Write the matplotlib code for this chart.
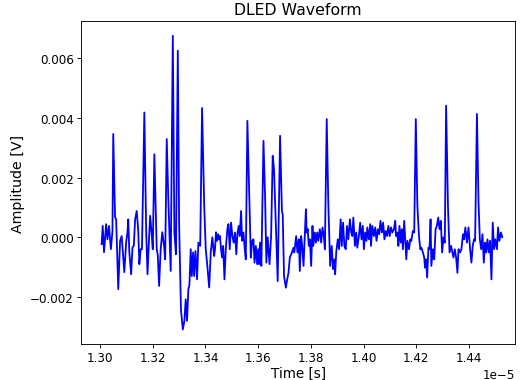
import numpy as np
from matplotlib import pyplot as plt

# sample times in ns
time_ns = [
    13006, 13010, 13015, 13023, 13028, 13034, 13041, 13047, 13050, 13057, 13061, 13069, 13076, 13082, 13092, 13099, 13104, 13107,
    13111, 13118, 13123, 13128, 13133, 13139, 13145, 13149, 13154, 13159, 13168, 13175, 13180, 13186, 13190, 13196, 13200, 13206,
    13215, 13219, 13224, 13230, 13236, 13243, 13247, 13253, 13259, 13268, 13276, 13282, 13288, 13295, 13300, 13307, 13314, 13320,
    13325, 13330, 13335, 13339, 13344, 13348, 13353, 13357, 13362, 13368, 13373, 13380, 13387, 13395, 13401, 13407, 13414, 13420,
    13426, 13433,
    13436, 13440, 13444, 13448, 13452, 13455, 13459, 13463, 13467, 13472, 13477, 13483, 13487, 13492, 13497, 13502, 13507, 13512,
    13517, 13521, 13526, 13530, 13535, 13539, 13544, 13549, 13553, 13559, 13567, 13572, 13577, 13582, 13586, 13591, 13596, 13600,
    13603, 13607, 13612, 13620, 13626, 13631, 13636, 13643, 13649, 13655, 13660,
    13668, 13674, 13683, 13690, 13693, 13698, 13705, 13710, 13715, 13720, 13728, 13734, 13737, 13744, 13749, 13754, 13758, 13763,
    13767, 13772, 13781, 13784, 13788, 13792, 13796, 13801, 13806, 13809, 13815, 13819, 13824, 13828, 13834, 13839, 13844, 13849,
    13853, 13860, 13866, 13873, 13879, 13884, 13889,
    13892, 13896, 13902, 13907, 13913, 13917, 13922, 13927, 13932, 13937, 13942, 13948, 13953, 13957, 13961, 13967, 13972, 13976,
    13982, 13987, 13992, 13997, 14001, 14006, 14011, 14014, 14020, 14025, 14028, 14033, 14039, 14044, 14049, 14054, 14059, 14064,
    14069, 14074, 14079, 14084, 14089, 14094, 14099, 14104, 14109, 14115, 14120,
    14123, 14128, 14132, 14136, 14141, 14145, 14149, 14154, 14159, 14162, 14166, 14172, 14177, 14181, 14187, 14192, 14198, 14204,
    14210, 14215, 14219, 14225, 14230, 14233, 14237, 14241, 14246, 14250, 14254, 14257, 14263, 14268, 14273, 14278, 14283, 14288,
    14293, 14298, 14303, 14308, 14313,
    14320, 14326, 14332, 14336, 14341, 14346, 14351, 14356, 14360, 14366, 14371, 14377, 14381, 14386, 14392, 14398, 14404, 14409,
    14414, 14419, 14423, 14430, 14436, 14441, 14446, 14451, 14456, 14461, 14465, 14470, 14475, 14480, 14485, 14490, 14495, 14500,
    14506, 14510, 14515, 14521, 14526,
]

# amplitude in mV
amp_mv = [
    -0.23, 0.38, -0.50, 0.44, -0.07, 0.38, -0.40, 0.20, 3.46, 0.67, 0.60, -1.74, -0.12, 0.04, -1.17, -0.17, 0.17, 0.60,
    -0.50, -1.24, -0.34, -0.29, 0.60, 0.88, 0.21, -0.90, -0.40, -0.40, 4.18, 0.17, -1.24, 0.00, 0.72, 0.10, -0.40, 2.78,
    -0.40, -0.60, -1.63, -0.40, 0.17, -0.29, -0.74, 3.29, 1.27, -1.13, 6.75, 0.17, -0.57, 6.25, 0.38, -2.42, -3.09, -2.80,
    -2.08, -2.80, -1.74, -1.60, -0.40, -1.30, -0.51, -1.30, -0.46, -1.41, -0.18, -0.29, 4.33, 1.10, -0.40, -0.96, -1.68, -0.51,
    0.00, -0.63,
    -0.40, 0.17, -0.12, 0.10, -0.07, 0.04, -0.40, -0.68, -0.29, -1.41, -0.40, 0.27, 0.44, -0.40, 0.49, 0.04, -0.18, 0.16,
    -0.57, 0.10, 0.38, 0.04, 0.88, -0.12, 0.16, -0.40, -0.74, 3.90, 1.05, -0.68, -0.12, -0.07, -0.85, -0.29, -0.90, -0.40,
    -0.90, -0.18, -0.96, 3.23, 1.39, -0.85, 0.00, -0.90, 0.04, 2.73, 2.28,
    0.16, -1.47, 3.40, 0.88, 0.77, -1.30, -1.69, -1.41, -1.19, -0.68, -0.51, -0.35, -0.51, 0.04, -0.51, -0.07, -1.13, 0.04,
    -0.29, -0.96, 0.94, 0.16, 0.27, -0.29, -0.07, -0.96, 0.38, -0.29, 0.16, -0.18, 0.16, -0.12, 0.27, -0.18, 0.33, 0.04,
    -0.40, 3.96, 1.16, -0.96, -0.29, -1.07, -0.74,
    -1.24, -0.51, -0.07, -0.40, 0.60, -0.29, 0.49, -0.29, -0.40, 0.38, -0.07, 0.60, 0.16, 0.04, 0.66, -0.29, 0.16, -0.35,
    0.04, 0.49, -0.07, 0.38, -0.40, 0.16, -0.12, 0.33, -0.07, 0.44, -0.29, 0.38, 0.04, 0.33, -0.12, 0.27, 0.10, 0.55,
    0.16, 0.49, -0.07, 0.21, 0.04, 0.38, 0.04, 0.33, 0.16, 0.27, 0.55,
    0.04, 0.16, -0.29, 0.38, -0.18, 0.27, -0.40, 0.55, -0.29, -0.74, -0.12, -0.40, -0.07, -0.12, 0.21, 0.16, 3.96, 1.05,
    0.04, -0.40, -0.35, -0.51, -0.68, -1.02, -0.74, -1.35, -0.35, -0.40, 0.60, -0.96, -0.40, -0.74, 0.27, 0.38, 0.66, 0.27,
    0.55, -0.51, 0.00, -0.18, 4.41,
    1.05, -0.51, -0.29, -0.46, -0.68, -0.40, -0.68, -1.19, -0.40, -0.51, -0.40, 0.10, -0.07, 0.33, -0.18, 0.33, -0.40, -0.85,
    -0.29, -0.07, -0.12, 4.13, 1.16, -0.07, -0.40, 0.10, -0.85, -0.18, -0.51, -0.07, -0.51, -0.12, -1.41, 0.49, -0.40, -0.07,
    -0.40, 0.33, -0.12, 0.16, 0.00,
]


def main():
    t = np.array(time_ns) * 1e-9
    v = np.array(amp_mv) * 1e-3

    fig = plt.figure(figsize=(530 / 81, 381 / 81), dpi=81)
    fig.subplots_adjust(left=0.153, right=0.972, top=0.942, bottom=0.094)
    ax = fig.add_subplot(111)
    ax.plot(t, v, color="blue", lw=1.6)
    ax.set_xlim(1.2928e-5, 1.4575e-5)
    ax.set_title("DLED Waveform", fontsize=14)
    ax.set_xlabel("Time [s]", fontsize=12, labelpad=1)
    ax.set_ylabel("Amplitude [V]", fontsize=12.5)
    ax.tick_params(labelsize=10.5, pad=3)
    ax.xaxis.get_offset_text().set_fontsize(10.5)
    fig.savefig("out.png", dpi=81)


if __name__ == "__main__":
    main()
